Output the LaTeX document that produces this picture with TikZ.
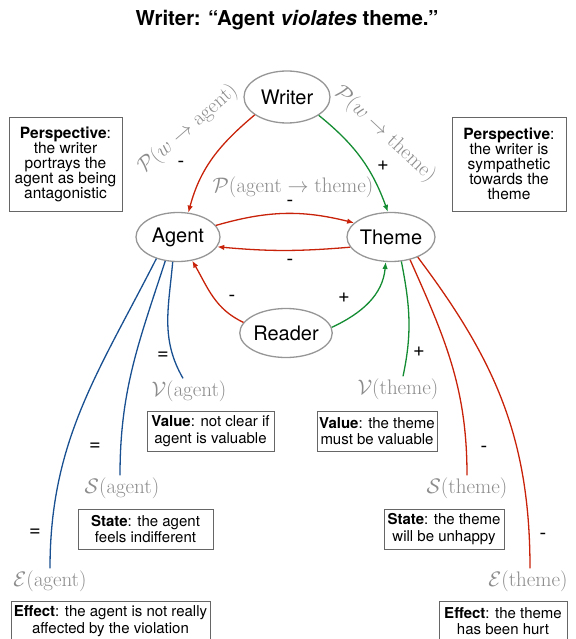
\RequirePackage{fix-cm}
\documentclass[tikz,border=0pt]{standalone}
\usepackage[no-math]{fontspec}
\setmainfont{TeX Gyre Heros}
\usepackage{amsmath}
\usetikzlibrary{shapes.geometric,arrows.meta}
\definecolor{negred}{RGB}{200,35,10}
\definecolor{posgreen}{RGB}{20,140,50}
\definecolor{neutblue}{RGB}{25,80,145}
\definecolor{labgray}{RGB}{140,140,140}
\definecolor{rimgray}{RGB}{150,150,150}

\begin{document}
\begin{tikzpicture}[x=1pt, y=1pt,
    actor/.style={ellipse, draw=rimgray, line width=1.3pt, minimum width=86pt, minimum height=49pt, inner sep=0pt, font=\fontsize{20}{24}\selectfont},
    note/.style={draw=black!60, line width=0.8pt, align=center, inner sep=2pt, font=\fontsize{15}{16.5}\selectfont},
    lab/.style={text=labgray, inner sep=2pt, font=\fontsize{21}{25}\selectfont},
    sign/.style={font=\fontsize{20}{24}\selectfont},
    arr/.style={-{Latex[length=7pt,width=5.5pt]}, line width=1.3pt},
    tie/.style={line width=1.3pt}
]
    \useasboundingbox (0,0) rectangle (575,-639);

    % Title
    \node[font=\fontsize{20.5}{24}\selectfont\bfseries] (title) at (287,-20) {Writer: “Agent \textit{violates} theme.”};

    % Actors
    \node[actor, minimum height=52pt] (writer) at (287,-97) {Writer};
    \node[actor, minimum width=84pt] (agent) at (178,-237) {Agent};
    \node[actor] (theme) at (391,-237) {Theme};
    \node[actor] (reader) at (286,-333) {Reader};

    % Perspective boxes
    \node[note, minimum width=113pt, minimum height=94pt, font=\fontsize{15.5}{15}\selectfont] (pagent) at (65.5,-164) {\textbf{Perspective}:\\the writer\\portrays the\\agent as being\\antagonistic};
    \node[note, minimum width=114pt, minimum height=94pt, font=\fontsize{15.5}{15}\selectfont] (ptheme) at (509,-164) {\textbf{Perspective}:\\the writer is\\sympathetic\\towards the\\theme};

    % Perspective arrows
    \draw[arr, negred] (writer.-151) to[out=-140, in=75] (agent.67);
    \draw[arr, posgreen] (writer.-30) to[out=-39, in=110] (theme.97);
    \draw[arr, negred] (agent.17) to[bend left=15] (theme.159);
    \draw[arr, negred] (theme.-166) to[bend left=5] (agent.-14);
    \draw[arr, negred] (reader.166) to[out=155, in=-60] (agent.-59);
    \draw[arr, posgreen] (reader.7) to[out=25, in=-95] (theme.-102);

    \node[lab, rotate=41] (pwa) at (188,-129) {$\mathcal{P}(w\rightarrow\mathrm{agent})$};
    \node[lab, rotate=-43] (pwt) at (385,-134) {$\mathcal{P}(w\rightarrow\mathrm{theme})$};
    \node[lab] (pat) at (293,-187) {$\mathcal{P}(\mathrm{agent}\rightarrow\mathrm{theme})$};
    \node[sign] at (181,-164) {-};
    \node[sign] at (383,-166) {+};
    \node[sign] at (290,-203) {-};
    \node[sign] at (290,-262) {-};
    \node[sign] at (232,-298) {-};
    \node[sign] at (344,-298) {+};

    % Agent side
    \node[lab] (vag) at (189,-391) {$\mathcal{V}(\mathrm{agent})$};
    \node[lab] (sag) at (122,-488) {$\mathcal{S}(\mathrm{agent})$};
    \node[lab] (eag) at (50,-581) {$\mathcal{E}(\mathrm{agent})$};
    \draw[tie, neutblue] (agent.-102) to[out=-95, in=120] ([xshift=-6pt]vag.north);
    \draw[tie, neutblue] (agent.-118) to[out=-108, in=90] ([xshift=-2pt]sag.north);
    \draw[tie, neutblue] (agent.-135) to[out=-117, in=90] (eag.north);
    \node[sign] at (163,-356) {=};
    \node[sign] at (95,-447) {=};
    \node[sign] at (35,-533) {=};

    \node[note, minimum width=127pt, minimum height=40pt] (bvag) at (210.5,-431) {\textbf{Value}: not clear if\\agent is valuable};
    \node[note, minimum width=135pt, minimum height=40pt] (bsag) at (145.5,-529) {\textbf{State}: the agent\\feels indifferent};
    \node[note, minimum width=199pt, minimum height=40pt] (beag) at (110.5,-621) {\textbf{Effect}: the agent is not really\\affected by the violation};

    % Theme side
    \node[lab] (vth) at (398,-389) {$\mathcal{V}(\mathrm{theme})$};
    \node[lab] (sth) at (467,-488) {$\mathcal{S}(\mathrm{theme})$};
    \node[lab] (eth) at (528,-581) {$\mathcal{E}(\mathrm{theme})$};
    \draw[tie, posgreen] (theme.-67) to[out=-79, in=78] ([xshift=5pt]vth.north);
    \draw[tie, negred] (theme.-50) to[out=-66, in=90] (sth.north);
    \draw[tie, negred] (theme.-37) to[out=-53, in=90] ([xshift=2pt]eth.north);
    \node[sign] at (419,-352) {+};
    \node[sign] at (484,-449) {-};
    \node[sign] at (543,-536) {-};

    \node[note, minimum width=120pt, minimum height=40pt] (bvth) at (377,-431) {\textbf{Value}: the theme\\must be valuable};
    \node[note, minimum width=120pt, minimum height=40pt] (bsth) at (444,-529) {\textbf{State}: the theme\\will be unhappy};
    \node[note, minimum width=128pt, minimum height=40pt] (beth) at (503,-621) {\textbf{Effect}: the theme\\has been hurt};
\end{tikzpicture}
\end{document}
